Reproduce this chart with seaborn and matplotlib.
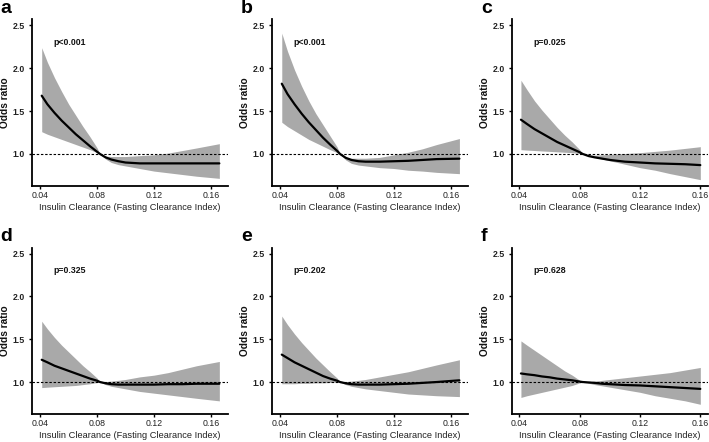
import numpy as np
import pandas as pd
import matplotlib
matplotlib.use("Agg")
import matplotlib.pyplot as plt
import seaborn as sns

# clearance grid (reference point ~0.082)
x_long = [0.041, 0.045, 0.05, 0.055, 0.06, 0.065, 0.07, 0.075, 0.08, 0.082,
          0.086, 0.09, 0.095, 0.10, 0.11, 0.12, 0.13, 0.14, 0.15, 0.166]
x_short = [0.041, 0.045, 0.05, 0.055, 0.06, 0.065, 0.07, 0.075, 0.08, 0.082,
           0.086, 0.09, 0.095, 0.10, 0.11, 0.12, 0.13, 0.14, 0.15, 0.16]

or_a = [1.68, 1.58, 1.48, 1.39, 1.31, 1.23, 1.16, 1.09, 1.025, 1.00,
        0.96, 0.935, 0.915, 0.90, 0.89, 0.89, 0.89, 0.89, 0.89, 0.89]
hi_a = [2.24, 2.07, 1.89, 1.73, 1.58, 1.45, 1.32, 1.20, 1.07, 1.00,
        0.975, 0.97, 0.97, 0.97, 0.98, 0.99, 1.01, 1.04, 1.07, 1.12]
lo_a = [1.26, 1.23, 1.20, 1.17, 1.14, 1.11, 1.08, 1.05, 1.015, 1.00,
        0.94, 0.90, 0.875, 0.86, 0.83, 0.80, 0.78, 0.76, 0.74, 0.715]

or_b = [1.82, 1.70, 1.58, 1.47, 1.37, 1.28, 1.19, 1.11, 1.035, 1.00,
        0.955, 0.93, 0.915, 0.91, 0.91, 0.915, 0.92, 0.93, 0.94, 0.945]
hi_b = [2.41, 2.20, 1.98, 1.79, 1.62, 1.47, 1.34, 1.21, 1.08, 1.00,
        0.96, 0.95, 0.95, 0.95, 0.96, 0.99, 1.02, 1.06, 1.11, 1.18]
lo_b = [1.37, 1.32, 1.27, 1.22, 1.17, 1.13, 1.09, 1.05, 1.015, 1.00,
        0.93, 0.89, 0.87, 0.86, 0.84, 0.83, 0.81, 0.80, 0.785, 0.77]

or_c = [1.40, 1.35, 1.29, 1.24, 1.19, 1.14, 1.10, 1.06, 1.02, 1.00,
        0.975, 0.96, 0.945, 0.93, 0.91, 0.90, 0.89, 0.885, 0.88, 0.87]
hi_c = [1.86, 1.75, 1.62, 1.51, 1.41, 1.31, 1.22, 1.14, 1.05, 1.00,
        0.99, 0.985, 0.99, 0.995, 1.005, 1.015, 1.03, 1.045, 1.065, 1.085]
lo_c = [1.05, 1.045, 1.04, 1.035, 1.03, 1.025, 1.02, 1.015, 1.005, 1.00,
        0.975, 0.96, 0.94, 0.92, 0.88, 0.84, 0.81, 0.77, 0.735, 0.70]

or_d = [1.26, 1.23, 1.19, 1.16, 1.13, 1.10, 1.07, 1.04, 1.015, 1.00,
        0.985, 0.975, 0.97, 0.97, 0.97, 0.97, 0.975, 0.975, 0.98, 0.98]
hi_d = [1.71, 1.62, 1.52, 1.43, 1.35, 1.27, 1.19, 1.12, 1.045, 1.00,
        1.005, 1.01, 1.02, 1.03, 1.06, 1.08, 1.11, 1.15, 1.19, 1.24]
lo_d = [0.935, 0.94, 0.945, 0.95, 0.955, 0.96, 0.97, 0.98, 0.995, 1.00,
        0.97, 0.95, 0.935, 0.92, 0.89, 0.87, 0.85, 0.83, 0.81, 0.78]

or_e = [1.32, 1.28, 1.23, 1.19, 1.15, 1.11, 1.07, 1.04, 1.015, 1.00,
        0.985, 0.975, 0.97, 0.97, 0.97, 0.975, 0.98, 0.99, 1.00, 1.02]
hi_e = [1.77, 1.67, 1.56, 1.46, 1.37, 1.28, 1.20, 1.12, 1.045, 1.00,
        1.005, 1.01, 1.02, 1.03, 1.06, 1.09, 1.12, 1.16, 1.20, 1.26]
lo_e = [0.98, 0.98, 0.98, 0.985, 0.985, 0.99, 0.99, 0.995, 1.00, 1.00,
        0.97, 0.95, 0.935, 0.92, 0.90, 0.88, 0.86, 0.85, 0.84, 0.83]

or_f = [1.10, 1.09, 1.08, 1.065, 1.055, 1.04, 1.03, 1.02, 1.005, 1.00,
        0.995, 0.99, 0.98, 0.975, 0.965, 0.96, 0.95, 0.94, 0.93, 0.92]
hi_f = [1.48, 1.43, 1.37, 1.31, 1.25, 1.19, 1.13, 1.08, 1.02, 1.00,
        1.005, 1.01, 1.02, 1.03, 1.05, 1.07, 1.09, 1.11, 1.14, 1.17]
lo_f = [0.82, 0.84, 0.86, 0.88, 0.90, 0.92, 0.94, 0.96, 0.99, 1.00,
        0.985, 0.97, 0.955, 0.94, 0.91, 0.88, 0.84, 0.81, 0.78, 0.74]

panel_letters = ['a', 'b', 'c', 'd', 'e', 'f']
p_labels = ['p<0.001', 'p<0.001', 'p=0.025', 'p=0.325', 'p=0.202', 'p=0.628']
xticks = [0.04, 0.08, 0.12, 0.16]
yticks = [1.0, 1.5, 2.0, 2.5]

panels = [
    (x_long, or_a, hi_a, lo_a),
    (x_long, or_b, hi_b, lo_b),
    (x_short, or_c, hi_c, lo_c),
    (x_long, or_d, hi_d, lo_d),
    (x_long, or_e, hi_e, lo_e),
    (x_short, or_f, hi_f, lo_f),
]

sns.set_style("ticks")
plt.rcParams['font.family'] = ['Liberation Sans', 'DejaVu Sans']

fig = plt.figure(figsize=(7.09, 4.42), dpi=100)

lefts = [0.045, 0.3836, 0.7222]
bottoms = [0.579, 0.063]
width = 0.2764
height = 0.377

for i, (xs, orv, hi, lo) in enumerate(panels):
    row, col = divmod(i, 3)
    ax = fig.add_axes([lefts[col], bottoms[row], width, height])
    df = pd.DataFrame({'clearance': xs, 'odds': orv})

    ax.fill_between(xs, lo, hi, color='#a9a9a9', linewidth=0, zorder=1)
    sns.lineplot(data=df, x='clearance', y='odds', color='black', linewidth=1.6,
                 ax=ax, zorder=3)
    ax.axhline(1.0, color='black', linestyle=(0, (2.2, 1.6)), linewidth=0.8, zorder=2)

    if col == 2:
        ax.set_xlim(0.0351, 0.1651)
    else:
        ax.set_xlim(0.0341, 0.172)
    ax.set_ylim(0.625, 2.57)
    ax.set_xticks(xticks)
    ax.set_xticklabels([f'{t:.2f}' for t in xticks])
    ax.set_yticks(yticks)
    ax.set_yticklabels([f'{t:.1f}' for t in yticks], fontweight='bold')

    sns.despine(ax=ax)
    for s in ['left', 'bottom']:
        ax.spines[s].set_linewidth(1.3)
        ax.spines[s].set_color('black')
    ax.tick_params(axis='both', length=2, width=1, labelsize=6.3, pad=1.5,
                   color='black', labelcolor='#222222')
    ax.tick_params(axis='y', pad=3)

    ax.set_xlabel('Insulin Clearance (Fasting Clearance Index)', fontsize=6.7,
                  color='#222222', labelpad=2)
    ax.set_ylabel('Odds ratio', fontsize=7.3, fontweight='bold',
                  color='#111111', labelpad=2)

    ax.text(0.049, 2.3, p_labels[i], fontsize=6.3, fontweight='bold',
            ha='left', va='center', color='#111111')

    fig.text(lefts[col] - 0.044, bottoms[row] + height + 0.005, panel_letters[i],
             fontsize=14, fontweight='bold', ha='left', va='bottom', color='black')

fig.savefig('out.png', dpi=100)
